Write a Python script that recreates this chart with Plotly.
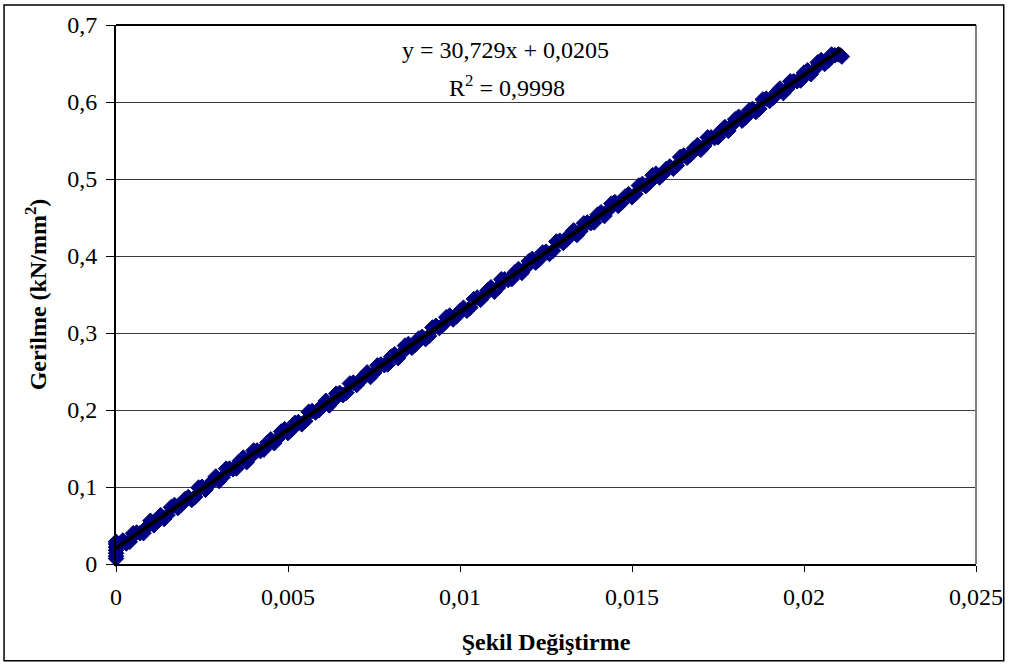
import plotly.graph_objects as go

# Measured data (Şekil Değiştirme, Gerilme) - readings, part 1
strain = [0.0000, 0.0000, 0.0000, 0.0000, 0.0000, 0.0000, 0.0000,
          0.0002, 0.0004, 0.0006, 0.0008, 0.0010, 0.0012, 0.0014, 0.0016, 0.0018,
          0.0020, 0.0022, 0.0024, 0.0026, 0.0028, 0.0030, 0.0032, 0.0034, 0.0036,
          0.0038, 0.0040, 0.0042, 0.0044, 0.0046, 0.0048, 0.0050, 0.0052, 0.0054,
          0.0056, 0.0058, 0.0060, 0.0062, 0.0064, 0.0066, 0.0068, 0.0070, 0.0072,
          0.0074, 0.0076, 0.0078, 0.0080, 0.0082, 0.0084, 0.0086, 0.0088, 0.0090,
          0.0092, 0.0094, 0.0096, 0.0098, 0.0100, 0.0102, 0.0104, 0.0106, 0.0108,
          0.0110, 0.0112, 0.0114, 0.0116, 0.0118, 0.0120, 0.0122, 0.0124, 0.0126,
          0.0128, 0.0130, 0.0132, 0.0134, 0.0136, 0.0138, 0.0140, 0.0142, 0.0144,
          0.0146, 0.0148, 0.0150, 0.0152, 0.0154, 0.0156, 0.0158, 0.0160, 0.0162,
          0.0164, 0.0166, 0.0168, 0.0170, 0.0172, 0.0174, 0.0176, 0.0178, 0.0180,
          0.0182, 0.0184, 0.0186, 0.0188, 0.0190, 0.0192, 0.0194, 0.0196, 0.0198,
          0.0200, 0.0202, 0.0204, 0.0206, 0.0208, 0.0210, 0.0211]
stress = [0.007, 0.010, 0.014, 0.018, 0.022, 0.026, 0.029,
          0.0306, 0.0288, 0.0409, 0.0401, 0.0562, 0.0554, 0.0585, 0.0737, 0.0728,
          0.0840, 0.0831, 0.0992, 0.0964, 0.1075, 0.1077, 0.1238, 0.1230, 0.1341,
          0.1323, 0.1474, 0.1466, 0.1577, 0.1569, 0.1720, 0.1701, 0.1833, 0.1814,
          0.1976, 0.1967, 0.2059, 0.2060, 0.2212, 0.2193, 0.2345, 0.2326, 0.2437,
          0.2429, 0.2580, 0.2582, 0.2693, 0.2675, 0.2836, 0.2808, 0.2929, 0.2921,
          0.3072, 0.3064, 0.3205, 0.3176, 0.3288, 0.3289, 0.3441, 0.3432, 0.3554,
          0.3535, 0.3697, 0.3688, 0.3790, 0.3781, 0.3932, 0.3914, 0.4045, 0.4027,
          0.4188, 0.4170, 0.4281, 0.4273, 0.4424, 0.4426, 0.4537, 0.4519, 0.4680,
          0.4651, 0.4773, 0.4764, 0.4916, 0.4907, 0.5049, 0.5020, 0.5132, 0.5133,
          0.5285, 0.5276, 0.5397, 0.5379, 0.5540, 0.5532, 0.5633, 0.5625, 0.5776,
          0.5758, 0.5889, 0.5871, 0.6032, 0.6014, 0.6125, 0.6116, 0.6268, 0.6269,
          0.6381, 0.6362, 0.6514, 0.6495, 0.6617, 0.6618, 0.6590]

# Measured data - readings, part 2
strain_b = [0.0001, 0.0003, 0.0005, 0.0007, 0.0009, 0.0011, 0.0013, 0.0015, 0.0017,
            0.0019, 0.0021, 0.0023, 0.0025, 0.0027, 0.0029, 0.0031, 0.0033, 0.0035,
            0.0037, 0.0039, 0.0041, 0.0043, 0.0045, 0.0047, 0.0049, 0.0051, 0.0053,
            0.0055, 0.0057, 0.0059, 0.0061, 0.0063, 0.0065, 0.0067, 0.0069, 0.0071,
            0.0073, 0.0075, 0.0077, 0.0079, 0.0081, 0.0083, 0.0085, 0.0087, 0.0089,
            0.0091, 0.0093, 0.0095, 0.0097, 0.0099, 0.0101, 0.0103, 0.0105, 0.0107,
            0.0109, 0.0111, 0.0113, 0.0115, 0.0117, 0.0119, 0.0121, 0.0123, 0.0125,
            0.0127, 0.0129, 0.0131, 0.0133, 0.0135, 0.0137, 0.0139, 0.0141, 0.0143,
            0.0145, 0.0147, 0.0149, 0.0151, 0.0153, 0.0155, 0.0157, 0.0159, 0.0161,
            0.0163, 0.0165, 0.0167, 0.0169, 0.0171, 0.0173, 0.0175, 0.0177, 0.0179,
            0.0181, 0.0183, 0.0185, 0.0187, 0.0189, 0.0191, 0.0193, 0.0195, 0.0197,
            0.0199, 0.0201, 0.0203, 0.0205, 0.0207, 0.0209]
stress_b = [0.0256, 0.0267, 0.0399, 0.0400, 0.0482, 0.0503, 0.0634, 0.0636, 0.0767,
            0.0769, 0.0870, 0.0872, 0.1003, 0.1025, 0.1136, 0.1128, 0.1239, 0.1241,
            0.1382, 0.1383, 0.1475, 0.1486, 0.1618, 0.1629, 0.1751, 0.1742, 0.1844,
            0.1855, 0.1987, 0.1998, 0.2119, 0.2111, 0.2222, 0.2224, 0.2355, 0.2377,
            0.2488, 0.2480, 0.2591, 0.2592, 0.2724, 0.2735, 0.2857, 0.2848, 0.2950,
            0.2961, 0.3093, 0.3104, 0.3226, 0.3217, 0.3328, 0.3330, 0.3461, 0.3483,
            0.3594, 0.3586, 0.3697, 0.3699, 0.3830, 0.3842, 0.3963, 0.3954, 0.4056,
            0.4067, 0.4199, 0.4210, 0.4332, 0.4323, 0.4435, 0.4436, 0.4568, 0.4589,
            0.4700, 0.4692, 0.4803, 0.4805, 0.4936, 0.4948, 0.5069, 0.5061, 0.5162,
            0.5174, 0.5305, 0.5316, 0.5438, 0.5429, 0.5541, 0.5542, 0.5674, 0.5695,
            0.5807, 0.5798, 0.5910, 0.5911, 0.6043, 0.6054, 0.6175, 0.6167, 0.6268,
            0.6280, 0.6411, 0.6423, 0.6544, 0.6536, 0.6607]

slope = 30.729
intercept = 0.0205
r2 = 0.9998

x_ticks = [0, 0.005, 0.01, 0.015, 0.02, 0.025]
x_tick_labels = ["0", "0,005", "0,01", "0,015", "0,02", "0,025"]
y_ticks = [0, 0.1, 0.2, 0.3, 0.4, 0.5, 0.6, 0.7]
y_tick_labels = ["0", "0,1", "0,2", "0,3", "0,4", "0,5", "0,6", "0,7"]

FONT = "Liberation Serif, Times New Roman, serif"


def fmt(v):
    return str(v).replace(".", ",")


all_x = strain + strain_b
all_y = stress + stress_b
x_line = [min(all_x), max(all_x)]
y_line = [slope * v + intercept for v in x_line]

fig = go.Figure()
fig.add_trace(go.Scatter(
    x=all_x, y=all_y, mode="markers", cliponaxis=False,
    marker=dict(symbol="diamond", size=12, color="#000080",
                line=dict(color="#000080", width=1)),
    showlegend=False, hoverinfo="x+y"))
fig.add_trace(go.Scatter(
    x=x_line, y=y_line, mode="lines",
    line=dict(color="black", width=4), showlegend=False))

L, R, T, B = 116, 31, 23, 102
W, H = 1015, 666
pw, ph = W - L - R, H - T - B

fig.update_layout(
    width=W, height=H,
    margin=dict(l=L, r=R, t=T, b=B),
    paper_bgcolor="white", plot_bgcolor="white",
    font=dict(family=FONT, size=24, color="black"),
    xaxis=dict(range=[0, 0.025], tickvals=x_ticks, ticktext=x_tick_labels,
               showgrid=False, zeroline=False, showline=True, linecolor="black",
               linewidth=2, ticks="outside", ticklen=6, tickcolor="black",
               tickwidth=1, tickfont=dict(size=24), ticklabelstandoff=4,
               title=dict(text="<b>Şekil Değiştirme</b>", font=dict(size=24),
                          standoff=24)),
    yaxis=dict(range=[0, 0.7], tickvals=y_ticks, ticktext=y_tick_labels,
               showgrid=True, gridcolor="#3a3a3a", gridwidth=1, zeroline=False,
               showline=True, linecolor="black", linewidth=2, ticks="outside",
               ticklen=8, tickcolor="black", tickwidth=1, tickfont=dict(size=24),
               ticklabelstandoff=4,
               title=dict(text="<b>Gerilme (kN/mm<sup>2</sup>)</b>",
                          font=dict(size=24), standoff=14)),
    shapes=[
        dict(type="line", xref="paper", yref="paper", x0=1, x1=1, y0=0, y1=1,
             line=dict(color="#808080", width=2)),
        dict(type="line", xref="paper", yref="paper", x0=0, x1=1, y0=1, y1=1,
             line=dict(color="black", width=2)),
        dict(type="rect", xref="paper", yref="paper",
             x0=(3 - L) / pw, x1=(1012 - L) / pw,
             y0=(H - B - 661) / ph, y1=(H - B - 3) / ph,
             line=dict(color="black", width=1.5)),
    ],
    annotations=[
        dict(xref="paper", yref="paper", x=(509 - L) / pw, y=(H - B - 48) / ph,
             text=f"y = {fmt(slope)}x + {fmt(intercept)}",
             showarrow=False, font=dict(size=24),
             xanchor="center", yanchor="middle"),
        dict(xref="paper", yref="paper", x=(511 - L) / pw, y=(H - B - 84) / ph,
             text=f"R<sup>2</sup> = {fmt(r2)}",
             showarrow=False, font=dict(size=24),
             xanchor="center", yanchor="middle"),
    ],
)

fig.write_html("out.html")
